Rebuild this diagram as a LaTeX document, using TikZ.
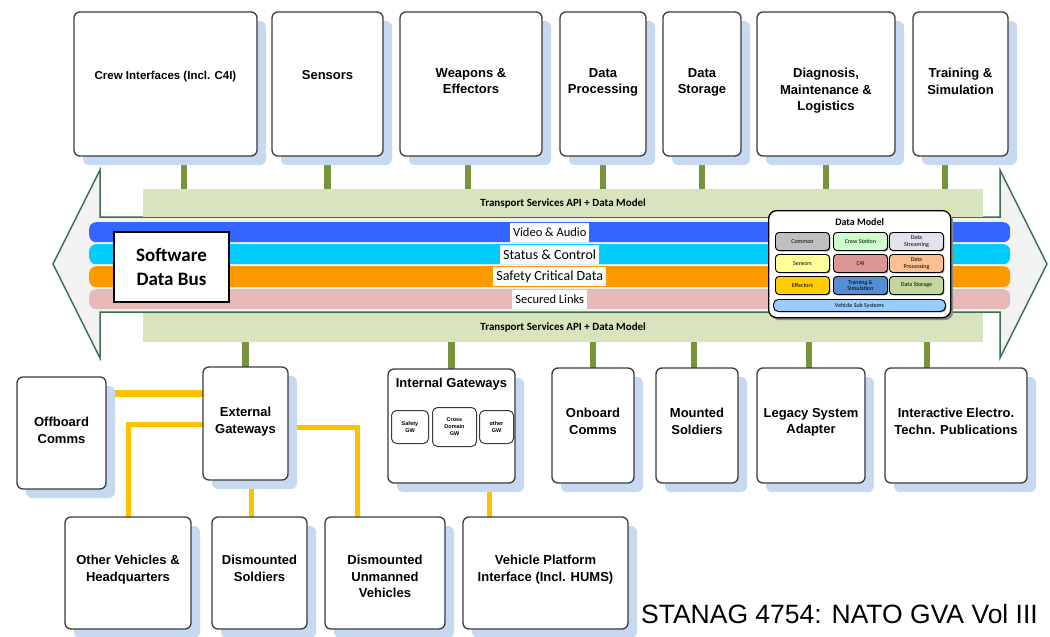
\documentclass[tikz,border=0pt]{standalone}
\usepackage{fontspec}
\setmainfont{Liberation Sans}
\newfontfamily\carlito{Carlito}
\usetikzlibrary{arrows.meta, positioning, shadows, backgrounds}

\definecolor{boxline}{HTML}{3A3A3A}
\definecolor{shadowblue}{HTML}{C6D9F1}
\definecolor{apigreen}{HTML}{D7E4BD}
\definecolor{busgreen}{HTML}{77933C}
\definecolor{linkyellow}{HTML}{FFC000}
\definecolor{arrowfill}{HTML}{F2F2F2}
\definecolor{arrowline}{HTML}{3B6E4B}
\definecolor{videoblue}{HTML}{3366FF}
\definecolor{statuscyan}{HTML}{00CCFF}
\definecolor{safetyorange}{HTML}{FF9900}
\definecolor{securedpink}{HTML}{E6B9B8}
\definecolor{dmgray}{HTML}{BFBFBF}
\definecolor{dmmint}{HTML}{CCFFCC}
\definecolor{dmlilac}{HTML}{E5E0EC}
\definecolor{dmyellow}{HTML}{FFFF99}
\definecolor{dmrose}{HTML}{D99694}
\definecolor{dmpeach}{HTML}{FAC090}
\definecolor{dmgold}{HTML}{FFCC00}
\definecolor{dmsteel}{HTML}{558ED5}
\definecolor{dmolive}{HTML}{C3D69B}
\definecolor{dmsky}{HTML}{99CCFF}

\begin{document}
\begin{tikzpicture} [%
    x = 1pt, y = -1pt,
    box/.style = {%
      draw = boxline, line width = 1.3pt, fill = white,
      rounded corners = 6pt, anchor = north west, outer sep = 0pt,
      drop shadow = {shadow xshift = 9pt, shadow yshift = -9pt,
        fill = shadowblue, opacity = 1}},
    lbl/.style = {%
      font = \bfseries\fontsize{13}{16.5}\selectfont,
      align = center, anchor = north, inner sep = 0pt,
      execute at begin node = \strut},
    band/.style = {%
      fill = apigreen, anchor = north west, inner sep = 0pt,
      minimum width = 840pt,
      font = \carlito\bfseries\fontsize{11}{13}\selectfont},
    lane/.style = {%
      rounded corners = 7pt, anchor = north west, inner sep = 0pt,
      minimum width = 921pt, minimum height = 20pt},
    lanetxt/.style = {%
      fill = white, inner xsep = 3pt, inner ysep = 0pt,
      minimum height = 19pt},
    gbus/.style = {draw = busgreen, line width = 6.5pt},
    ylink/.style = {draw = linkyellow, line width = 5pt},
    dmbox/.style = {%
      draw = black, line width = 0.9pt, rounded corners = 3.5pt,
      anchor = north west, minimum width = 54pt, minimum height = 18pt,
      inner sep = 0pt, align = center,
      font = \carlito\fontsize{6}{6.5}\selectfont,
      drop shadow = {shadow xshift = 1pt, shadow yshift = -1pt,
        fill = black!50, opacity = 1}},
    gwbox/.style = {%
      draw = boxline, line width = 1pt, rounded corners = 5pt,
      anchor = north west, inner sep = 0pt, align = center,
      font = \bfseries\fontsize{5.5}{7}\selectfont}
  ]

\useasboundingbox (0,0) rectangle (1050,637);

% software data bus
\draw[fill = arrowfill, draw = arrowline, line width = 1.5pt]
  (53,264) -- (100,170) -- (100,217) -- (1000,217) -- (1000,170)
  -- (1047,264) -- (1000,358) -- (1000,312) -- (100,312) -- (100,358) -- cycle;

\node[band, minimum height = 28pt] (api_top) at (143,189)
  {Transport Services API + Data Model};
\node[band, minimum height = 29pt] (api_bot) at (143,313)
  {Transport Services API + Data Model};

\node[lane, fill = videoblue]    (lane_video)   at (89,222) {};
\node[lane, fill = statuscyan]   (lane_status)  at (89,244) {};
\node[lane, fill = safetyorange, minimum height = 21pt] (lane_safety) at (89,266) {};
\node[lane, fill = securedpink]  (lane_secured) at (89,289) {};

\node[lanetxt, font = \carlito\fontsize{12.5}{14}\selectfont] (video_t)   at (lane_video)   {Video \& Audio};
\node[lanetxt, font = \carlito\fontsize{14}{16}\selectfont]   (status_t)  at (lane_status)  {Status \& Control};
\node[lanetxt, font = \carlito\fontsize{14}{16}\selectfont]   (safety_t)  at (lane_safety)  {Safety Critical Data};
\node[lanetxt, font = \carlito\fontsize{12.5}{14}\selectfont] (secured_t) at (lane_secured) {Secured Links};

\node[draw = black, line width = 2pt, fill = white, anchor = north west,
      minimum width = 115pt, minimum height = 70pt, align = center,
      font = \carlito\bfseries\fontsize{19}{24}\selectfont] (sdb) at (113,231)
  {Software\\Data Bus};

% data model
\node[draw = black, line width = 1.3pt, fill = white, rounded corners = 8pt,
      anchor = north west, minimum width = 182pt, minimum height = 107pt,
      drop shadow = {shadow xshift = 2.5pt, shadow yshift = -2.5pt,
        fill = black!45, opacity = 1}] (dm) at (768,210) {};
\node[font = \carlito\bfseries\fontsize{10}{12}\selectfont, inner sep = 0pt]
  (dm_title) at ([yshift = -12pt]dm.north) {Data Model};

\node[dmbox, fill = dmgray]   (dm_common)  at (775,232) {Common};
\node[dmbox, fill = dmmint]   (dm_crew)    at (833,232) {Crew Station};
\node[dmbox, fill = dmlilac]  (dm_stream)  at (889,232) {Data\\Streaming};
\node[dmbox, fill = dmyellow] (dm_sensors) at (775,254) {Sensors};
\node[dmbox, fill = dmrose]   (dm_cfouri)  at (833,254) {C4I};
\node[dmbox, fill = dmpeach]  (dm_proc)    at (889,254) {Data\\Processing};
\node[dmbox, fill = dmgold]   (dm_effect)  at (775,276) {Effectors};
\node[dmbox, fill = dmsteel]  (dm_train)   at (833,276) {Training \&\\Simulation};
\node[dmbox, fill = dmolive]  (dm_store)   at (889,276) {Data Storage};
\node[dmbox, fill = dmsky, minimum width = 172pt, minimum height = 12pt,
      rounded corners = 5pt] (dm_vss) at (773,299) {Vehicle Sub Systems};

% top row
\node[box, minimum width = 183pt, minimum height = 144pt] (crew)    at (74,12)  {};
\node[box, minimum width = 111pt, minimum height = 144pt] (sensors) at (272,12) {};
\node[box, minimum width = 142pt, minimum height = 144pt] (weapons) at (400,12) {};
\node[box, minimum width = 86pt,  minimum height = 144pt] (dproc)   at (560,12) {};
\node[box, minimum width = 78pt,  minimum height = 144pt] (dstor)   at (663,12) {};
\node[box, minimum width = 138pt, minimum height = 144pt] (diag)    at (757,12) {};
\node[box, minimum width = 95pt,  minimum height = 144pt] (train)   at (913,12) {};

\node[lbl, font = \bfseries\fontsize{11.5}{16.5}\selectfont] (crew_t)
  at ([yshift = -56pt]crew.north) {Crew Interfaces (Incl. C4I)};
\node[lbl] (sensors_t) at ([yshift = -56pt]sensors.north) {Sensors};
\node[lbl] (weapons_t) at ([yshift = -56pt]weapons.north) {Weapons \&\\Effectors};
\node[lbl] (dproc_t)   at ([yshift = -56pt]dproc.north)   {Data\\Processing};
\node[lbl] (dstor_t)   at ([yshift = -56pt]dstor.north)   {Data\\Storage};
\node[lbl] (diag_t)    at ([yshift = -56pt]diag.north)    {Diagnosis,\\Maintenance \&\\Logistics};
\node[lbl] (train_t)   at ([yshift = -56pt]train.north)   {Training \&\\Simulation};

% middle row
\node[box, minimum width = 89pt,  minimum height = 112pt] (offb)   at (17,377)  {};
\node[box, minimum width = 85pt,  minimum height = 113pt] (extgw)  at (203,367) {};
\node[box, minimum width = 127pt, minimum height = 114pt] (intgw)  at (388,369) {};
\node[box, minimum width = 82pt,  minimum height = 115pt] (onbc)   at (552,368) {};
\node[box, minimum width = 82pt,  minimum height = 115pt] (msold)  at (656,368) {};
\node[box, minimum width = 108pt, minimum height = 115pt] (legacy) at (757,368) {};
\node[box, minimum width = 142pt, minimum height = 115pt] (ietp)   at (885,368) {};

\node[lbl] (offb_t)   at ([yshift = -40pt]offb.north)   {Offboard\\Comms};
\node[lbl] (extgw_t)  at ([yshift = -40pt]extgw.north)  {External\\Gateways};
\node[lbl] (intgw_t)  at ([yshift = -7pt]intgw.north)   {Internal Gateways};
\node[lbl] (onbc_t)   at ([yshift = -40pt]onbc.north)   {Onboard\\Comms};
\node[lbl] (msold_t)  at ([yshift = -40pt]msold.north)  {Mounted\\Soldiers};
\node[lbl] (legacy_t) at ([yshift = -40pt]legacy.north) {Legacy System\\Adapter};
\node[lbl] (ietp_t)   at ([yshift = -40pt]ietp.north)   {Interactive Electro.\\Techn. Publications};

\node[gwbox, minimum width = 37pt, minimum height = 33pt] (gw_safe)  at (391,410) {Safety\\GW};
\node[gwbox, minimum width = 44pt, minimum height = 39pt] (gw_cross) at (432,407) {Cross\\Domain\\GW};
\node[gwbox, minimum width = 34pt, minimum height = 33pt] (gw_other) at (479,410) {other\\GW};

% bottom row
\node[box, minimum width = 126pt, minimum height = 112pt] (other) at (65,517)  {};
\node[box, minimum width = 95pt,  minimum height = 112pt] (dsold) at (212,517) {};
\node[box, minimum width = 120pt, minimum height = 112pt] (duv)   at (325,517) {};
\node[box, minimum width = 165pt, minimum height = 112pt] (vpi)   at (463,517) {};

\node[lbl] (other_t) at ([yshift = -38pt]other.north) {Other Vehicles \&\\Headquarters};
\node[lbl] (dsold_t) at ([yshift = -38pt]dsold.north) {Dismounted\\Soldiers};
\node[lbl] (duv_t)   at ([yshift = -38pt]duv.north)   {Dismounted\\Unmanned\\Vehicles};
\node[lbl] (vpi_t)   at ([yshift = -38pt]vpi.north)   {Vehicle Platform\\Interface (Incl. HUMS)};

\node[anchor = base east, inner sep = 0pt, font = \fontsize{26.5}{30}\selectfont]
  (caption) at (1038,623) {STANAG 4754: NATO GVA Vol III};

% connectors
\begin{scope}[on background layer]
  \draw[gbus] ([xshift = 18.5pt]crew.south) -- ([xshift = 18.5pt]crew.south |- api_top.north);
  \draw[gbus] (sensors.south) -- (sensors.south |- api_top.north);
  \draw[gbus] ([xshift = -3pt]weapons.south) -- ([xshift = -3pt]weapons.south |- api_top.north);
  \draw[gbus] (dproc.south) -- (dproc.south |- api_top.north);
  \draw[gbus] (dstor.south) -- (dstor.south |- api_top.north);
  \draw[gbus] (diag.south) -- (diag.south |- api_top.north);
  \draw[gbus] ([xshift = -15.5pt]train.south) -- ([xshift = -15.5pt]train.south |- api_top.north);

  \draw[gbus] (extgw.north) -- (extgw.north |- api_bot.south);
  \draw[gbus] (intgw.north) -- (intgw.north |- api_bot.south);
  \draw[gbus] (onbc.north) -- (onbc.north |- api_bot.south);
  \draw[gbus] ([xshift = -3pt]msold.north) -- ([xshift = -3pt]msold.north |- api_bot.south);
  \draw[gbus] ([xshift = -2pt]legacy.north) -- ([xshift = -2pt]legacy.north |- api_bot.south);
  \draw[gbus] ([xshift = -29pt]ietp.north) -- ([xshift = -29pt]ietp.north |- api_bot.south);

  \draw[ylink, line width = 7pt] ([yshift = -16pt]offb.north east) -- ([yshift = -16pt]offb.north east -| extgw.west);
  \draw[ylink] ([yshift = -57pt]extgw.north west) -| (other.north);
  \draw[ylink] ([xshift = 5.5pt]extgw.south) -- ([xshift = 5.5pt]extgw.south |- dsold.north);
  \draw[ylink] ([yshift = -60pt]extgw.north east) -| ([xshift = -28pt]duv.north);
  \draw[ylink] ([xshift = 37.5pt]intgw.south) -- ([xshift = 37.5pt]intgw.south |- vpi.north);
\end{scope}

\end{tikzpicture}
\end{document}
